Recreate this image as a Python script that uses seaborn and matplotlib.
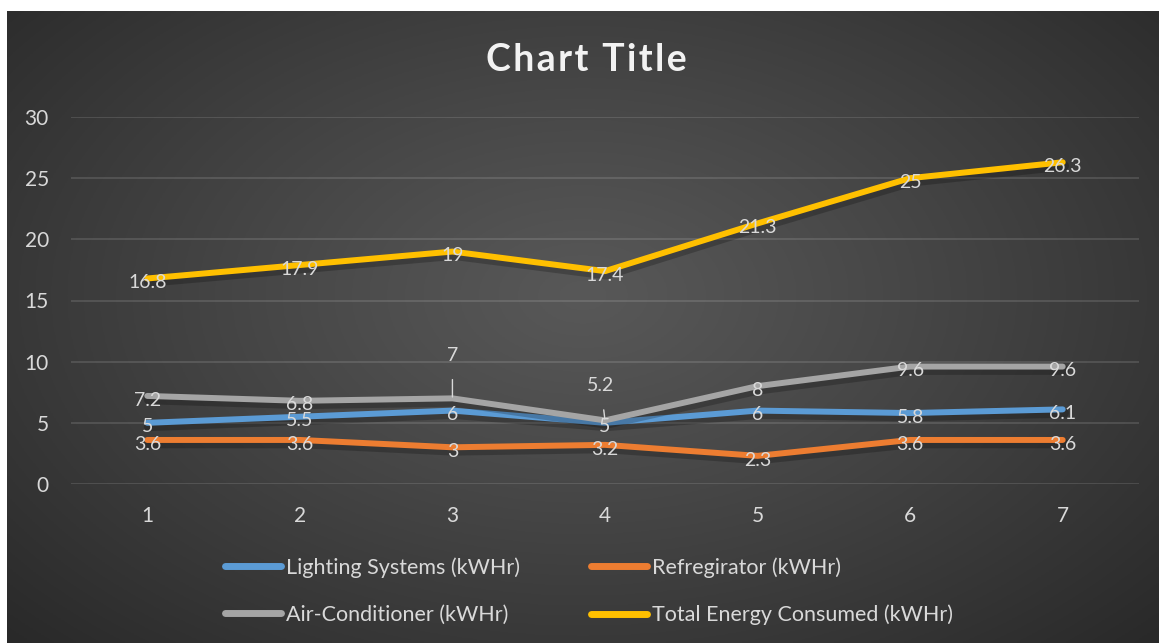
import numpy as np
import pandas as pd
import matplotlib
matplotlib.use("Agg")
import matplotlib.pyplot as plt
import matplotlib.patheffects as pe
from matplotlib.lines import Line2D
import seaborn as sns

# ---- data ----
x_vals = [1, 2, 3, 4, 5, 6, 7]
lighting = [5, 5.5, 6, 5, 6, 5.8, 6.1]
refrigerator = [3.6, 3.6, 3, 3.2, 2.3, 3.6, 3.6]
air_conditioner = [7.2, 6.8, 7, 5.2, 8, 9.6, 9.6]
total = [16.8, 17.9, 19, 17.4, 21.3, 25, 26.3]
series_names = ["Lighting Systems (kWHr)", "Refregirator (kWHr)",
                "Air-Conditioner (kWHr)", "Total Energy Consumed (kWHr)"]
series_values = [lighting, refrigerator, air_conditioner, total]
colors = ["#5B9BD5", "#ED7D31", "#A5A5A5", "#FFC000"]
y_ticks = [0, 5, 10, 15, 20, 25, 30]
title = "Chart Title"

sns.set_theme(style="dark")
plt.rcParams["font.family"] = ["Lato", "DejaVu Sans"]

W, H = 1159, 643
fig = plt.figure(figsize=(W / 100, H / 100), dpi=100)
fig.patch.set_facecolor("white")

# ---- radial gradient background ----
bg = fig.add_axes([7 / W, 0, 1 - 7 / W, 1 - 11 / H])
bg.set_axis_off()
gx, gy = np.meshgrid(np.linspace(0, 1, 400), np.linspace(0, 1, 250))
cx, cy = 0.5, 0.55
r = np.sqrt(((gx - cx) / 0.75) ** 2 + ((gy - cy) / 0.85) ** 2)
r = np.clip(r, 0, 1)
inner, outer = 0.345, 0.145
val = inner + (outer - inner) * r ** 1.1
img = np.dstack([val, val, val])
bg.imshow(img, aspect="auto", extent=[0, 1, 0, 1], origin="lower")

# ---- main axes ----
ax = fig.add_axes([71 / W, 1 - 484 / H, 1068 / W, 367 / H])
ax.patch.set_alpha(0)

df = pd.DataFrame({
    "x": np.tile(x_vals, len(series_names)),
    "value": np.concatenate(series_values),
    "series": np.repeat(series_names, len(x_vals)),
})
shadow = [pe.SimpleLineShadow(offset=(1, -2.5), alpha=0.22, shadow_color="black",
                              linewidth=7), pe.Normal()]
sns.lineplot(data=df, x="x", y="value", hue="series", hue_order=series_names,
             palette=colors, linewidth=4.3, ax=ax, legend=False, sort=False)
for line in ax.get_lines():
    line.set_solid_capstyle("round")
    line.set_solid_joinstyle("round")
    line.set_path_effects(shadow)

ax.set_xlim(0.5, 7.5)
ax.set_ylim(0, 30)
ax.set_yticks(y_ticks)
ax.set_xticks(x_vals)
ax.set_xlabel("")
ax.set_ylabel("")
ax.grid(axis="y", color="white", alpha=0.12, linewidth=1.5)
ax.grid(axis="x", visible=False)
for s in ax.spines.values():
    s.set_visible(False)
ax.tick_params(axis="both", colors="#D9D9D9", labelsize=15, length=0)
ax.tick_params(axis="y", pad=16)
ax.tick_params(axis="x", pad=16)

# ---- data labels ----
label_color = "#D9D9D9"
offsets = {(2, 2): (0, 31), (2, 3): (-3, 25)}
for si, vals in enumerate(series_values):
    for xi, (xv, v) in enumerate(zip(x_vals, vals)):
        txt = f"{v:g}"
        if (si, xi) in offsets:
            ax.annotate(txt, xy=(xv, v), xytext=offsets[(si, xi)],
                        textcoords="offset points", ha="center", va="center",
                        fontsize=14, color=label_color, zorder=6,
                        arrowprops=dict(arrowstyle="-", color=label_color, lw=1,
                                        shrinkA=9, shrinkB=1))
        else:
            ax.annotate(txt, xy=(xv, v), xytext=(0, -3), textcoords="offset points",
                        ha="center", va="center", fontsize=14,
                        color=label_color, zorder=6)

# ---- title (letter-spaced) ----
spaced_title = "\u200a".join(title)
fig.text(586 / W, 1 - 60 / H, spaced_title, ha="center", va="center",
         fontsize=27, fontweight="bold", color="#F2F2F2")

# ---- legend ----
handles = [Line2D([], [], color=c, lw=5, solid_capstyle="round") for c in colors]
order = [0, 2, 1, 3]
leg = fig.legend([handles[i] for i in order], [series_names[i] for i in order],
                 ncol=2, loc="center", bbox_to_anchor=(589 / W, 1 - 591 / H),
                 frameon=False, fontsize=15.5, handlelength=2.6, handletextpad=0.25,
                 columnspacing=3.3, labelspacing=1.25)
for t in leg.get_texts():
    t.set_color(label_color)

fig.savefig("out.png", dpi=100, facecolor=fig.get_facecolor())
